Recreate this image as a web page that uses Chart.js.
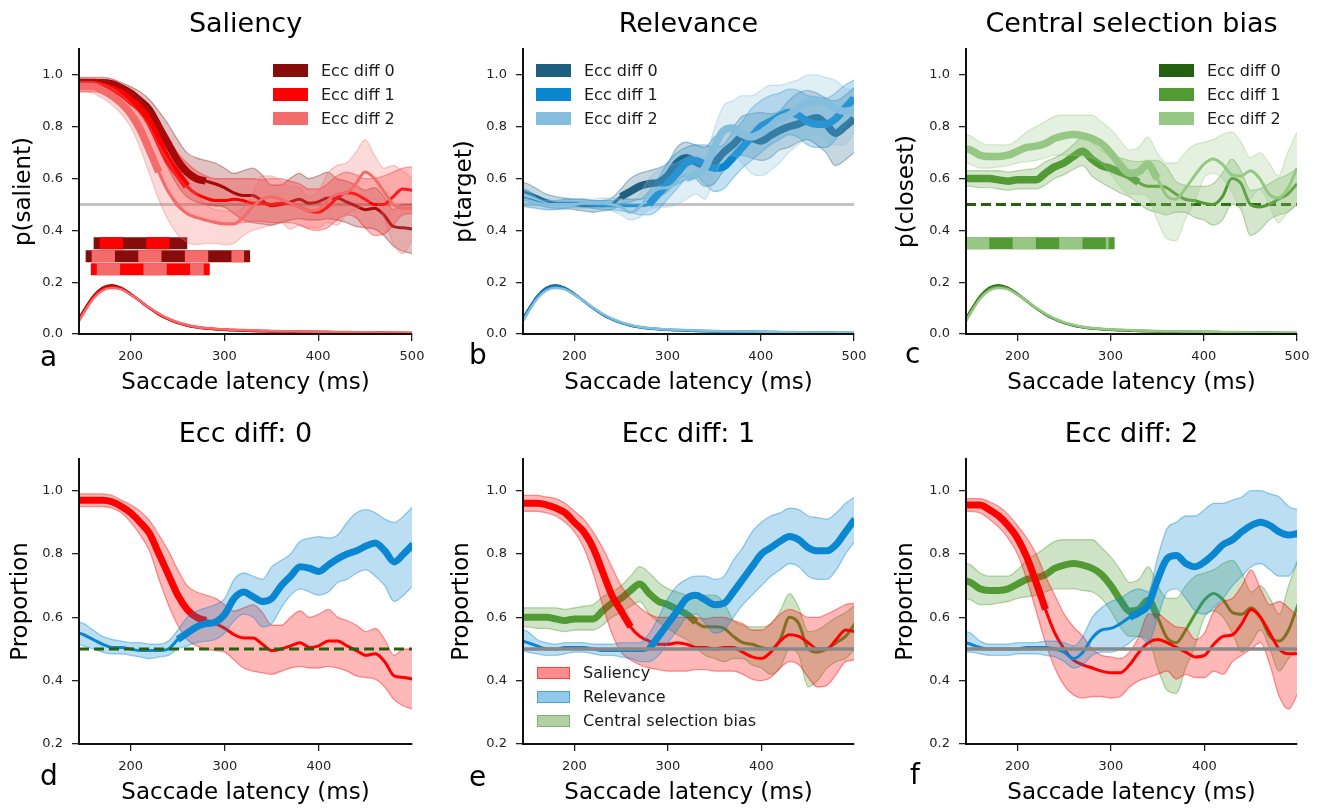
<!DOCTYPE html>
<html>
<head>
<meta charset="utf-8">
<script src="https://cdn.jsdelivr.net/npm/chart.js@4"></script>
<style>
  body { margin: 0; background: #fff; font-family: "DejaVu Sans", sans-serif; color: #111; }
  #fig { position: relative; width: 1320px; height: 808px; overflow: hidden; }
  canvas { position: absolute; }
  .lbl { position: absolute; font-size: 28px; line-height: 28px; color: #000; }
  .leg { position: absolute; font-size: 16px; color: #1a1a1a; }
  .leg div { display: flex; align-items: center; height: 24px; white-space: nowrap; }
  .leg i { display: inline-block; width: 35px; height: 13px; margin-right: 13px; box-sizing: border-box; }
</style>
</head>
<body>
<div id="fig">
  <canvas id="ca" width="440" height="400" style="left:0;top:0"></canvas>
  <canvas id="cb" width="440" height="400" style="left:440px;top:0"></canvas>
  <canvas id="cc" width="440" height="400" style="left:880px;top:0"></canvas>
  <canvas id="cd" width="440" height="408" style="left:0;top:400px"></canvas>
  <canvas id="ce" width="440" height="408" style="left:440px;top:400px"></canvas>
  <canvas id="cf" width="440" height="408" style="left:880px;top:400px"></canvas>
  <div class="lbl" style="left:40px;top:343px">a</div>
  <div class="lbl" style="left:469px;top:341px">b</div>
  <div class="lbl" style="left:905px;top:340px">c</div>
  <div class="lbl" style="left:40px;top:762px">d</div>
  <div class="lbl" style="left:469px;top:763px">e</div>
  <div class="lbl" style="left:910px;top:761px">f</div>
  <div class="leg" id="lega" style="left:273px;top:58.7px"></div>
  <div class="leg" id="legb" style="left:536px;top:58.7px"></div>
  <div class="leg" id="legc" style="left:1159px;top:58.7px"></div>
  <div class="leg" id="lege" style="left:537px;top:660.7px"></div>
</div>
<script>
// saccade latency (ms)
const latency = [145, 150, 160, 170, 180, 190, 200, 210, 220, 230, 240, 250, 260, 270, 280, 290, 300, 310, 320,
  330, 340, 350, 360, 370, 380, 390, 400, 410, 420, 430, 440, 450, 460, 470, 480, 490, 500];

// saliency, ecc diff 0/1/2
const sal0 = [.97,.97,.97,.97,.965,.95,.93,.9,.865,.8,.735,.67,.625,.6,.59,.58,.565,.545,.535,.535,.515,.495,.5,.51,.52,.505,.51,.525,.525,.51,.495,.48,.485,.46,.415,.41,.405];
const sal0Hi = [.99,.99,.99,.99,.985,.97,.955,.935,.905,.86,.81,.75,.7,.68,.67,.66,.64,.62,.63,.64,.615,.575,.575,.6,.62,.6,.61,.625,.6,.59,.575,.555,.565,.53,.48,.5,.5];
const sal0Lo = [.95,.95,.95,.95,.945,.93,.9,.86,.81,.72,.64,.575,.53,.51,.5,.495,.49,.465,.44,.43,.425,.42,.43,.44,.445,.44,.44,.445,.44,.43,.415,.41,.405,.38,.34,.32,.31];
const sal1 = [.96,.96,.96,.955,.945,.93,.9,.87,.82,.745,.67,.62,.57,.54,.525,.515,.515,.52,.515,.505,.505,.5,.505,.505,.49,.475,.47,.49,.525,.545,.54,.52,.5,.5,.53,.56,.555];
const sal1Hi = [.985,.985,.985,.98,.975,.96,.935,.91,.87,.82,.76,.7,.66,.63,.61,.6,.6,.6,.6,.6,.595,.6,.6,.59,.58,.56,.56,.58,.61,.625,.615,.6,.6,.61,.625,.64,.645];
const sal1Lo = [.935,.935,.935,.93,.92,.9,.87,.82,.74,.64,.55,.49,.465,.45,.44,.435,.43,.43,.43,.435,.435,.43,.43,.43,.42,.405,.4,.41,.44,.46,.45,.41,.38,.385,.42,.46,.465];
const sal2 = [.955,.955,.955,.94,.92,.89,.85,.79,.71,.625,.55,.5,.465,.45,.44,.43,.425,.425,.45,.49,.52,.53,.52,.505,.49,.475,.48,.515,.54,.545,.58,.625,.6,.55,.5,.485,.485];
const sal2Hi = [.975,.975,.975,.965,.95,.925,.89,.85,.8,.73,.67,.61,.57,.54,.5,.48,.475,.47,.49,.54,.61,.61,.59,.57,.565,.53,.55,.62,.65,.66,.7,.75,.69,.64,.65,.63,.6];
const sal2Lo = [.935,.935,.93,.91,.885,.85,.8,.72,.62,.52,.44,.385,.355,.345,.35,.35,.345,.35,.38,.4,.41,.42,.43,.405,.42,.41,.41,.43,.42,.46,.48,.5,.52,.45,.35,.31,.36];

// relevance, ecc diff 0/1/2
const rel0 = [.55,.545,.53,.515,.505,.505,.5,.495,.495,.495,.5,.53,.55,.57,.58,.585,.61,.66,.68,.665,.65,.66,.7,.73,.76,.755,.745,.765,.785,.8,.81,.825,.835,.81,.775,.8,.83];
const rel0Hi = [.585,.58,.56,.54,.53,.525,.52,.52,.515,.515,.525,.56,.6,.62,.63,.64,.66,.72,.74,.73,.72,.76,.78,.8,.84,.85,.855,.85,.86,.9,.93,.94,.93,.91,.9,.92,.95];
const rel0Lo = [.515,.51,.5,.49,.485,.485,.48,.475,.47,.475,.48,.5,.51,.52,.525,.53,.55,.59,.61,.6,.57,.58,.63,.67,.69,.68,.67,.68,.71,.72,.74,.75,.73,.7,.65,.67,.7];
const rel1 = [.525,.52,.51,.5,.5,.505,.505,.505,.5,.495,.495,.495,.495,.495,.5,.54,.58,.62,.66,.67,.655,.64,.645,.68,.72,.76,.8,.82,.84,.855,.845,.82,.81,.81,.83,.87,.91];
const rel1Hi = [.56,.555,.53,.52,.515,.52,.52,.52,.515,.515,.515,.52,.52,.52,.55,.6,.66,.7,.72,.73,.73,.72,.73,.78,.82,.87,.9,.92,.93,.945,.94,.92,.915,.91,.93,.96,.98];
const rel1Lo = [.495,.49,.485,.48,.48,.485,.49,.49,.485,.48,.48,.475,.47,.46,.46,.48,.52,.56,.6,.61,.58,.55,.56,.6,.64,.67,.7,.73,.75,.77,.76,.73,.72,.72,.75,.8,.84];
const rel2 = [.52,.515,.505,.5,.5,.5,.5,.505,.505,.505,.5,.49,.47,.49,.535,.56,.565,.58,.6,.615,.64,.72,.785,.795,.77,.76,.775,.8,.83,.845,.87,.89,.9,.89,.87,.86,.865];
const rel2Hi = [.555,.55,.525,.515,.515,.515,.52,.52,.52,.525,.525,.52,.51,.54,.6,.63,.65,.66,.68,.69,.68,.79,.88,.9,.92,.92,.94,.96,.96,.97,.98,1.0,1.0,.99,.98,.95,.94];
const rel2Lo = [.49,.49,.485,.48,.48,.48,.485,.485,.485,.48,.475,.46,.44,.45,.48,.49,.49,.5,.52,.54,.52,.6,.68,.69,.66,.62,.61,.63,.66,.7,.73,.76,.77,.75,.73,.73,.78];

// central selection bias, ecc diff 1/2 (ecc diff 0 is the 0.5 line)
const cen1 = [.6,.6,.6,.6,.595,.59,.595,.595,.595,.62,.645,.66,.685,.705,.675,.65,.64,.625,.61,.585,.57,.57,.565,.54,.52,.515,.505,.5,.53,.6,.58,.5,.49,.5,.52,.54,.58];
const cen1Hi = [.63,.63,.63,.63,.63,.625,.63,.635,.64,.665,.68,.7,.73,.76,.74,.71,.69,.68,.67,.665,.67,.67,.645,.59,.575,.57,.57,.58,.62,.675,.63,.555,.56,.58,.6,.615,.64];
const cen1Lo = [.57,.57,.565,.565,.56,.555,.56,.56,.56,.575,.6,.615,.635,.65,.61,.585,.565,.545,.53,.505,.48,.47,.46,.47,.47,.45,.44,.42,.44,.5,.48,.38,.4,.44,.46,.47,.5];
const cen2 = [.715,.71,.69,.685,.685,.69,.705,.72,.725,.735,.755,.765,.77,.765,.755,.735,.7,.655,.62,.625,.655,.6,.535,.52,.56,.61,.655,.675,.655,.615,.61,.63,.6,.54,.525,.56,.64];
const cen2Hi = [.77,.765,.74,.73,.73,.73,.75,.78,.8,.82,.84,.845,.845,.845,.845,.82,.79,.75,.71,.72,.76,.7,.66,.66,.7,.73,.74,.75,.77,.78,.74,.68,.7,.66,.61,.7,.78];
const cen2Lo = [.66,.655,.64,.64,.645,.65,.66,.665,.67,.68,.69,.69,.69,.685,.68,.66,.62,.57,.54,.54,.53,.44,.37,.36,.44,.51,.6,.62,.6,.55,.49,.52,.56,.5,.43,.47,.5];

// latency distributions
const dist0 = [.06,.09,.145,.178,.188,.178,.155,.128,.1,.076,.057,.043,.033,.026,.021,.018,.016,.014,.013,.012,.011,.01,.0095,.009,.0085,.008,.0075,.007,.0065,.006,.0055,.005,.005,.0045,.004,.004,.0035];
const dist1 = [.055,.085,.14,.173,.183,.175,.153,.127,.1,.077,.058,.044,.034,.027,.022,.019,.017,.015,.014,.013,.012,.011,.01,.0095,.009,.0085,.008,.0075,.007,.0065,.006,.0055,.005,.005,.0045,.004,.004];
const dist2 = [.05,.08,.135,.168,.178,.172,.152,.128,.102,.079,.06,.046,.036,.028,.023,.02,.018,.016,.015,.014,.013,.012,.011,.0105,.01,.0095,.009,.0085,.008,.0075,.007,.0065,.006,.0055,.005,.0045,.004];

// significant windows (ms)
const salSig = [[145, 280], [145, 260], [145, 230]];
const relSig = [[250, 500], [280, 500], [320, 500]];
const cenSig = [[145, 330], [145, 350]];

// difference bars
const salBarY = [0.35, 0.30, 0.25];
const salBarFrom = [167, 158.5, 164];
const salBarTo = [254, 321, 278];
const cenBarY = 0.35, cenBarFrom = 145, cenBarTo = 298;

const chance = 0.5;
const xTicks = [200, 300, 400, 500];
const yTicksTop = [0, 0.2, 0.4, 0.6, 0.8, 1.0];
const yTicksBottom = [0.2, 0.4, 0.6, 0.8, 1.0];
const eccLabels = ['Ecc diff 0', 'Ecc diff 1', 'Ecc diff 2'];
const sourceLabels = ['Saliency', 'Relevance', 'Central selection bias'];

const reds = ['#870c0c', '#ff0000', '#f46b6b'];
const blues = ['#1f5f80', '#0a87d0', '#85bddc'];
const greens = ['#255f10', '#529a34', '#97c784'];
const salColor = '#ff0000', relColor = '#0a87d0', cenColor = '#529a34';

Chart.defaults.font.family = "'DejaVu Sans', sans-serif";

function rgba(hex, a) {
  const n = parseInt(hex.slice(1), 16);
  return 'rgba(' + (n >> 16) + ',' + ((n >> 8) & 255) + ',' + (n & 255) + ',' + a + ')';
}

function line(ys, color, width, extra) {
  return Object.assign({
    data: ys.map((y, i) => ({x: latency[i], y: y})),
    borderColor: color, borderWidth: width, pointRadius: 0, fill: false,
    cubicInterpolationMode: 'monotone', clip: 0
  }, extra || {});
}

function flat(y, color, width, dash) {
  return {data: [{x: 145, y: y}, {x: 500, y: y}], borderColor: color, borderWidth: width,
    borderDash: dash || [], pointRadius: 0, fill: false, clip: 0};
}

function band(lo, hi, color, fa, ea) {
  return [
    line(lo, rgba(color, ea), 1.3),
    line(hi, rgba(color, ea), 1.3, {fill: '-1', backgroundColor: rgba(color, fa)})
  ];
}

function mean(ys, sig, color, thin, thick) {
  const bold = ys.map((y, i) => (latency[i] >= sig[0] && latency[i] <= sig[1]) ? y : null);
  return [line(ys, color, thin), line(bold, color, thick)];
}

function stripe(y, from, to, base, over) {
  return [
    {data: [{x: from, y: y}, {x: to, y: y}], borderColor: base, borderWidth: 12, borderCapStyle: 'square',
      pointRadius: 0, fill: false, clip: 0},
    {data: [{x: from, y: y}, {x: to, y: y}], borderColor: over, borderWidth: 12, borderCapStyle: 'butt',
      borderDash: [23.3, 23.3], pointRadius: 0, fill: false, clip: 0}
  ];
}

function panel(id, o) {
  o.datasets.forEach((d, i) => { d.order = -i; });
  const axisGrid = {drawOnChartArea: false, tickLength: 7, color: '#222', lineWidth: 1.3, z: 1};
  const axisBorder = {color: '#111', width: 2, z: 1};
  new Chart(document.getElementById(id), {
    type: 'line',
    data: {datasets: o.datasets},
    options: {
      responsive: false,
      animation: false,
      devicePixelRatio: 1,
      layout: {padding: {right: o.padRight}},
      plugins: {
        legend: {display: false},
        tooltip: {enabled: false},
        title: {display: true, text: o.title, fullSize: false, color: '#000',
          font: {size: 27, weight: 'normal'}, padding: {top: o.titleTop, bottom: 7.8}}
      },
      scales: {
        x: {
          type: 'linear', min: 145, max: o.xMax,
          afterBuildTicks: s => { s.ticks = xTicks.filter(v => v <= o.xMax).map(v => ({value: v})); },
          afterFit: s => { s.height = o.xHeight; },
          ticks: {padding: 8, font: {size: 13}, color: '#222', maxRotation: 0},
          grid: axisGrid, border: axisBorder,
          title: {display: true, text: 'Saccade latency (ms)', color: '#000', font: {size: 23},
            padding: {top: 0, bottom: o.xTitlePad}}
        },
        y: {
          type: 'linear', min: o.yMin, max: 1.1,
          afterBuildTicks: s => { s.ticks = o.yTicks.map(v => ({value: v})); },
          afterFit: s => { s.width = o.yWidth; },
          ticks: {padding: 9, font: {size: 13}, color: '#222', callback: v => v.toFixed(1)},
          grid: axisGrid, border: axisBorder,
          title: {display: true, text: o.yLabel, color: '#000', font: {size: 23},
            padding: {top: o.yTitlePad, bottom: 0}}
        }
      }
    }
  });
}

function topSets(cols, series, sig) {
  let ds = [];
  series.forEach((s, k) => {
    ds = ds.concat(band(s[1], s[2], cols[k], 0.25, 0.35), mean(s[0], sig[k], cols[k], 3, 7.5));
  });
  return ds;
}

const dists = [dist0, dist1, dist2];
const salSeries = [[sal0, sal0Lo, sal0Hi], [sal1, sal1Lo, sal1Hi], [sal2, sal2Lo, sal2Hi]];
const relSeries = [[rel0, rel0Lo, rel0Hi], [rel1, rel1Lo, rel1Hi], [rel2, rel2Lo, rel2Hi]];
const cenSeries = [[cen1, cen1Lo, cen1Hi], [cen2, cen2Lo, cen2Hi]];

// a: saliency
panel('ca', {
  title: 'Saliency', yLabel: 'p(salient)', yMin: 0, yTicks: yTicksTop, xMax: 500,
  yWidth: 79, padRight: 28, xHeight: 66, titleTop: 8.8, xTitlePad: 3.2, yTitlePad: 10.2,
  datasets: [flat(chance, '#c4c4c4', 3)]
    .concat(dists.map((d, k) => line(d, reds[k], 2.5)))
    .concat(stripe(salBarY[0], salBarFrom[0], salBarTo[0], reds[0], reds[1]))
    .concat(stripe(salBarY[1], salBarFrom[1], salBarTo[1], reds[0], reds[2]))
    .concat(stripe(salBarY[2], salBarFrom[2], salBarTo[2], reds[1], reds[2]))
    .concat(topSets(reds, salSeries, salSig))
});

// b: relevance
panel('cb', {
  title: 'Relevance', yLabel: 'p(target)', yMin: 0, yTicks: yTicksTop, xMax: 500,
  yWidth: 83, padRight: 26, xHeight: 66, titleTop: 8.8, xTitlePad: 3.2, yTitlePad: 11.2,
  datasets: [flat(chance, '#c4c4c4', 3)]
    .concat(dists.map((d, k) => line(d, blues[k], 2.5)))
    .concat(topSets(blues, relSeries, relSig))
});

// c: central selection bias
panel('cc', {
  title: 'Central selection bias', yLabel: 'p(closest)', yMin: 0, yTicks: yTicksTop, xMax: 500,
  yWidth: 86, padRight: 23, xHeight: 66, titleTop: 8.8, xTitlePad: 3.2, yTitlePad: 13.7,
  datasets: dists.map((d, k) => line(d, greens[k], 2.5))
    .concat(stripe(cenBarY, cenBarFrom, cenBarTo, greens[1], greens[2]))
    .concat([flat(chance, greens[0], 3, [10, 5])])
    .concat(topSets(greens.slice(1), cenSeries, cenSig))
});

// bottom row helpers
function srcSets(s, sig, color) {
  return band(s[1], s[2], color, 0.28, 0.4).concat(mean(s[0], sig, color, 3, 7));
}

// d: ecc diff 0
panel('cd', {
  title: 'Ecc diff: 0', yLabel: 'Proportion', yMin: 0.2, yTicks: yTicksBottom, xMax: 499,
  yWidth: 79, padRight: 28, xHeight: 64, titleTop: 18.8, xTitlePad: 0.9, yTitlePad: 7,
  datasets: srcSets(salSeries[0], salSig[0], salColor)
    .concat(srcSets(relSeries[0], relSig[0], relColor))
    .concat([flat(chance, greens[0], 3, [10, 5])])
});

// e: ecc diff 1
panel('ce', {
  title: 'Ecc diff: 1', yLabel: 'Proportion', yMin: 0.2, yTicks: yTicksBottom, xMax: 499,
  yWidth: 83, padRight: 26, xHeight: 64, titleTop: 18.8, xTitlePad: 0.9, yTitlePad: 8.7,
  datasets: srcSets(cenSeries[0], cenSig[0], cenColor)
    .concat(srcSets(salSeries[1], salSig[1], salColor))
    .concat(srcSets(relSeries[1], relSig[1], relColor))
    .concat([flat(chance, '#888888', 3.5)])
});

// f: ecc diff 2
panel('cf', {
  title: 'Ecc diff: 2', yLabel: 'Proportion', yMin: 0.2, yTicks: yTicksBottom, xMax: 499,
  yWidth: 86, padRight: 23, xHeight: 64, titleTop: 18.8, xTitlePad: 0.9, yTitlePad: 12,
  datasets: srcSets(cenSeries[1], cenSig[1], cenColor)
    .concat(srcSets(salSeries[2], salSig[2], salColor))
    .concat(srcSets(relSeries[2], relSig[2], relColor))
    .concat([flat(chance, '#888888', 3.5)])
});

// legends
function legend(id, labels, fills, edges) {
  const box = document.getElementById(id);
  labels.forEach((t, k) => {
    const row = document.createElement('div');
    const patch = document.createElement('i');
    patch.style.background = fills[k];
    patch.style.border = '1.5px solid ' + edges[k];
    row.appendChild(patch);
    row.appendChild(document.createTextNode(t));
    box.appendChild(row);
  });
}
legend('lega', eccLabels, reds, reds.map(c => rgba(c, 0.6)));
legend('legb', eccLabels, blues, blues.map(c => rgba(c, 0.6)));
legend('legc', eccLabels, greens, greens.map(c => rgba(c, 0.6)));
const srcCols = [salColor, relColor, cenColor];
legend('lege', sourceLabels, srcCols.map(c => rgba(c, 0.45)), srcCols.map(c => rgba(c, 0.55)));
document.querySelectorAll('#lege i').forEach(p => { p.style.height = '12px'; p.style.width = '33px'; });
</script>
</body>
</html>
